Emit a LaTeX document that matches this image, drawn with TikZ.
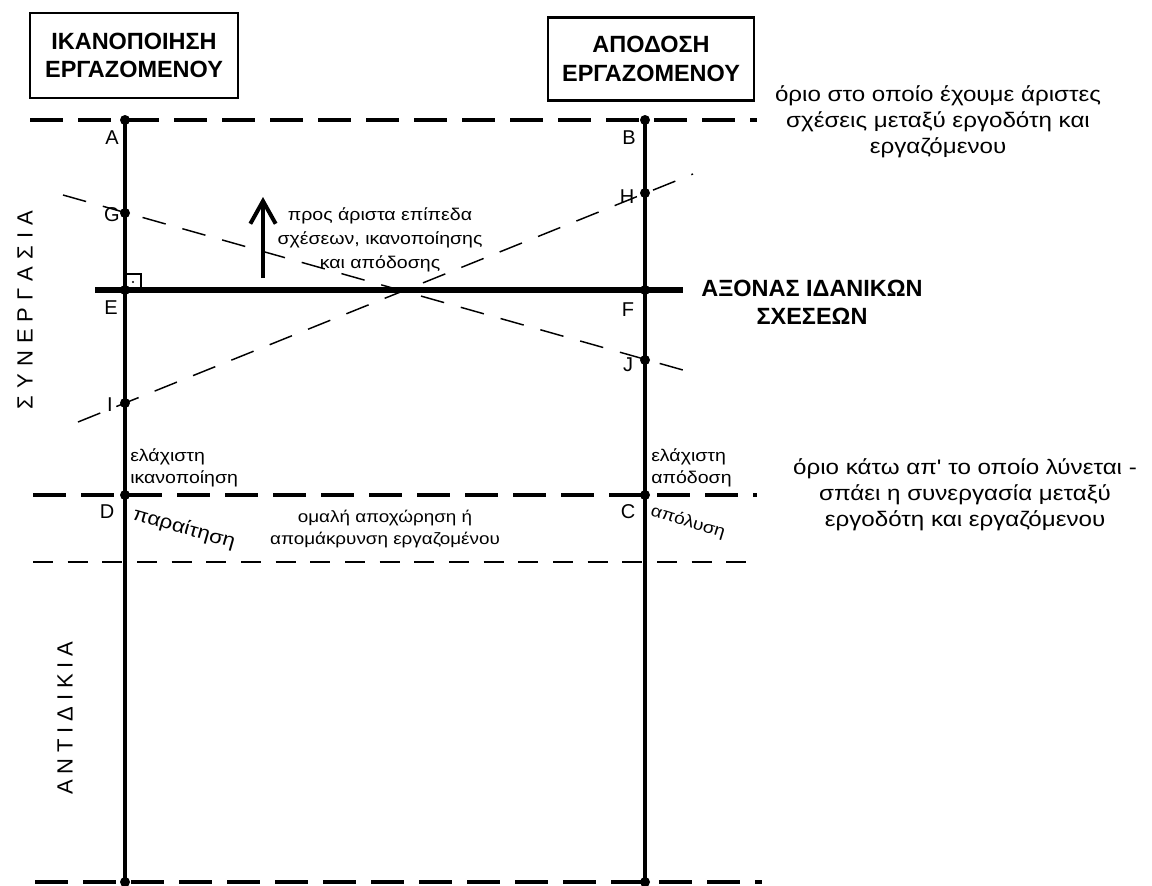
\documentclass[tikz,border=0pt]{standalone}
\usepackage{fontspec}
\setmainfont{Liberation Sans}
\newfontfamily\wide[FakeStretch=1.15]{Liberation Sans}
\usetikzlibrary{arrows.meta}
\newcommand\ltrgap{\kern5.3pt}
\newcommand\ltrgapb{\kern4.4pt}
\begin{document}
\begin{tikzpicture}[x=0.75pt,y=-0.75pt,
  vline/.style={line width=3.5pt},
  axisline/.style={line width=3.8pt},
  bigdash/.style={line width=3pt, dash pattern=on 25pt off 11pt},
  thindash/.style={line width=1.1pt, dash pattern=on 15pt off 11pt},
  diagdash/.style={line width=1.1pt, dash pattern=on 18pt off 13pt},
  dot/.style={circle, fill=black, inner sep=0pt, minimum size=7.5pt},
  ptlabel/.style={font=\fontsize{15}{17}\selectfont, inner sep=0pt},
  titlebox/.style={draw, line width=1.9pt, align=center, font=\fontsize{17.6}{21.5}\selectfont\bfseries, inner sep=0pt},
  notetxt/.style={align=center, inner sep=0pt, font=\wide\fontsize{15.75}{19.5}\selectfont},
  arrtxt/.style={align=center, inner sep=0pt, font=\wide\fontsize{12.75}{18}\selectfont},
  smalltxt/.style={inner sep=0pt, align=left, font=\wide\fontsize{12.75}{16.5}\selectfont},
  sidetxt/.style={rotate=90, inner sep=0pt, font=\fontsize{16.5}{19}\selectfont},
]
\fill[white] (0,0) rectangle (1152,885);
\useasboundingbox (0,0) rectangle (1152,885);

% reference coordinates
\coordinate (topL) at (30,120);  \coordinate (topR) at (757,120);
\coordinate (minL) at (33,495);  \coordinate (minR) at (757,495);
\coordinate (thinL) at (33,562); \coordinate (thinR) at (750,562);
\coordinate (botL) at (35,882);  \coordinate (botR) at (762,882);
\coordinate (axL) at (95,290);   \coordinate (axR) at (683,290);
\coordinate (d1a) at (63,195);   \coordinate (d1b) at (690,372);
\coordinate (d2a) at (78,422);   \coordinate (d2b) at (693,174);

\coordinate (A) at (125,120); \coordinate (G) at (125,213); \coordinate (E) at (125,290);
\coordinate (I) at (125,403); \coordinate (D) at (125,495); \coordinate (Abot) at (125,882);
\coordinate (B) at (645,120); \coordinate (H) at (645,193); \coordinate (F) at (645,290);
\coordinate (J) at (645,360); \coordinate (C) at (645,495); \coordinate (Bbot) at (645,882);

% dashed lines
\draw[bigdash] (topL) -- (topR);
\draw[bigdash] (minL) -- (minR);
\draw[bigdash] (botL) -- (botR);
\draw[thindash] (thinL) -- (thinR);
\draw[diagdash] (d1a) -- (d1b);
\draw[diagdash] (d2a) -- (d2b);

% main lines
\draw[vline] (A) -- (Abot);
\draw[vline] (B) -- (Bbot);
\draw[axisline] (axL) -- (axR);

% right angle mark
\draw[line width=1.1pt] (125,274) -- (141,274) -- (141,290);
\fill (133,282) circle (0.8pt);

% dots
\foreach \p in {A,G,E,I,D,Abot,B,H,F,J,C,Bbot} \node[dot] at (\p) {};

% arrow
\coordinate (arrS) at (263,278); \coordinate (arrE) at (263,197);
\draw[line width=3pt, -{Straight Barb[length=17pt, width=19pt]}] (arrS) -- (arrE);

% point labels
\node[ptlabel] (lA) at (112,138) {A};
\node[ptlabel] (lB) at (629,138) {B};
\node[ptlabel] (lG) at (112,215) {G};
\node[ptlabel] (lH) at (627,197) {H};
\node[ptlabel] (lE) at (111,308) {E};
\node[ptlabel] (lF) at (628,310) {F};
\node[ptlabel] (lI) at (110,405) {I};
\node[ptlabel] (lJ) at (628,365) {J};
\node[ptlabel] (lD) at (107,512) {D};
\node[ptlabel] (lC) at (628,512) {C};

% boxes
\node[titlebox, minimum width=156pt, minimum height=64pt] (boxL) at (134,55.5) {ΙΚΑΝΟΠΟΙΗΣΗ\\ΕΡΓΑΖΟΜΕΝΟΥ};
\node[titlebox, minimum width=154.5pt, minimum height=62pt] (boxR) at (651,59) {ΑΠΟΔΟΣΗ\\ΕΡΓΑΖΟΜΕΝΟΥ};

% notes
\node[notetxt] (topnote) at (938,122) {όριο στο οποίο έχουμε άριστες\\σχέσεις μεταξύ εργοδότη και\\εργαζόμενου};
\node[notetxt] (minnote) at (965,495) {όριο κάτω απ' το οποίο λύνεται -\\σπάει η συνεργασία μεταξύ\\εργοδότη και εργαζόμενου};
\node[arrtxt] (arrnote) at (380,240) {προς άριστα επίπεδα\\σχέσεων, ικανοποίησης\\και απόδοσης};
\node[align=center, inner sep=0pt, font=\fontsize{17.6}{21}\selectfont\bfseries] (axlabel) at (812,302) {ΑΞΟΝΑΣ ΙΔΑΝΙΚΩΝ\\ΣΧΕΣΕΩΝ};

\node[smalltxt, anchor=west] (minL1) at (130,468) {ελάχιστη\\ικανοποίηση};
\node[smalltxt, anchor=west] (minR1) at (651,468) {ελάχιστη\\απόδοση};
\node[align=center, inner sep=0pt, font=\wide\fontsize{12.3}{16.5}\selectfont] (smooth) at (385,529) {ομαλή αποχώρηση ή\\απομάκρυνση εργαζομένου};
\node[rotate=-16, anchor=west, inner sep=0pt, font=\wide\fontsize{14.5}{16}\selectfont] (resign) at (133,514) {παραίτηση};
\node[rotate=-17, anchor=west, inner sep=0pt, font=\wide\fontsize{12.5}{15}\selectfont] (dismiss) at (651,511) {απόλυση};

% side labels
\node[sidetxt] (coop) at (25,310) {Σ\ltrgap Υ\ltrgap Ν\ltrgap Ε\ltrgap Ρ\ltrgap Γ\ltrgap Α\ltrgap Σ\ltrgap Ι\ltrgap Α};
\node[sidetxt] (anti) at (65,718) {Α\ltrgapb Ν\ltrgapb Τ\ltrgapb Ι\ltrgapb Δ\ltrgapb Ι\ltrgapb Κ\ltrgapb Ι\ltrgapb Α};
\end{tikzpicture}
\end{document}
